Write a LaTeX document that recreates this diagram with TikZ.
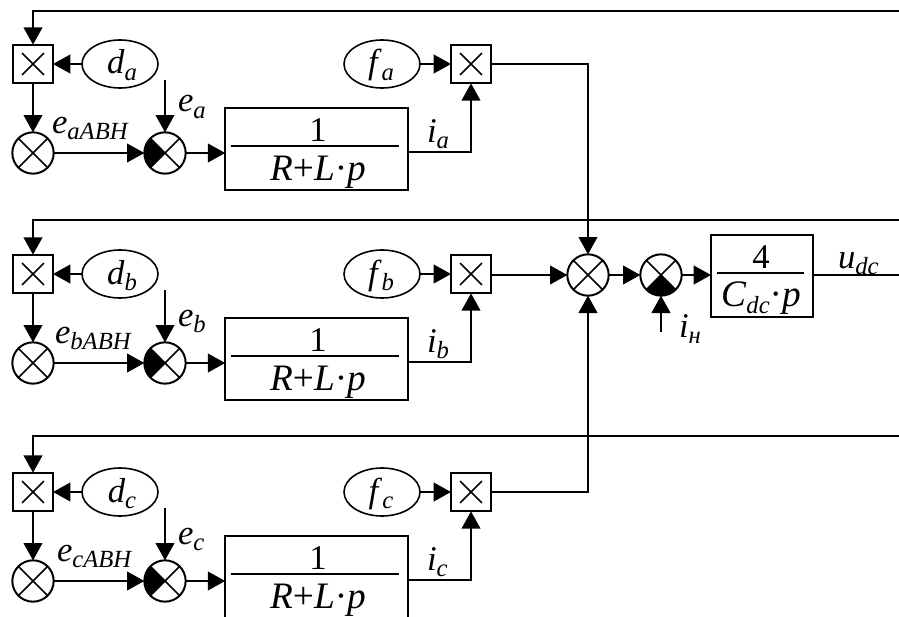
\documentclass[tikz,border=0pt]{standalone}
\usepackage{fontspec}
\setmainfont{Liberation Serif}
\usetikzlibrary{arrows.meta,calc,shapes.geometric}
\newcommand\sbs[1]{\raisebox{-0.2em}{\fontsize{18.5}{20}\selectfont #1}}
\newcommand\lbl[2]{\textit{#1}\sbs{\textit{#2}}}
\tikzset{
  x=0.75pt,y=-0.75pt,
  every node/.style={inner sep=0pt,outer sep=0pt,font=\fontsize{26}{28}\selectfont},
  wire/.style={line width=1.5pt},
  arr/.style={wire,-{Triangle[length=13pt,width=14pt]}},
  mult/.style={draw,line width=1.5pt,rectangle,minimum width=30pt,minimum height=29pt,
    path picture={\draw[line width=1.1pt]
      ($(path picture bounding box.center)+(-8.2pt,-8.2pt)$)--($(path picture bounding box.center)+(8.2pt,8.2pt)$)
      ($(path picture bounding box.center)+(-8.2pt,8.2pt)$)--($(path picture bounding box.center)+(8.2pt,-8.2pt)$);}},
  sumc/.style={draw,line width=1.5pt,circle,minimum size=31pt,
    path picture={\draw[line width=1.1pt]
      (path picture bounding box.center)+(-12pt,-12pt)--+(12pt,12pt)
      (path picture bounding box.center)+(-12pt,12pt)--+(12pt,-12pt);}},
  coef/.style={draw,line width=1.2pt,ellipse,minimum width=57pt,minimum height=36pt},
  tf/.style={draw,line width=1.5pt,rectangle,minimum width=137pt,minimum height=61.5pt},
  tfm/.style={draw,line width=1.5pt,rectangle,minimum width=76.5pt,minimum height=61.5pt},
  txt/.style={anchor=base west},
  ctr/.style={anchor=base},
  den/.style={anchor=base,font=\fontsize{28}{30}\selectfont},
  bar/.style={line width=1.5pt}
}
% #1 letter, #2 row offset, #3 feedback line y, #4 subscript label x, #5 e label baseline
\newcommand\plantrow[5]{%
  \coordinate (r#1) at (899,#3);
  \node[mult] (m#1) at (33,{64+#2}) {};
  \node[coef] (d#1) at (120,{64+#2}) {};
  \node[ctr] at (122,{74+#2}) {\lbl{d}{#1}};
  \node[coef] (f#1) at (382,{64+#2}) {};
  \node[ctr] at (381,{74+#2}) {\lbl{f}{#1}};
  \node[mult] (g#1) at (471,{64+#2}) {};
  \node[sumc] (s#1) at (33,{153+#2}) {};
  \node[sumc] (t#1) at (165,{153+#2}) {};
  \fill (t#1.center) -- ($(t#1.center)+(135:15.5pt)$) arc[start angle=135,end angle=225,radius=15.5pt] -- cycle;
  \node[tf] (b#1) at (316.5,{149+#2}) {};
  \coordinate (ln#1) at (231,{146+#2});
  \coordinate (rn#1) at (399,{146+#2});
  \draw[bar] (ln#1) -- (rn#1);
  \node[ctr] at (318,{141+#2}) {1};
  \node[den] at (318,{180+#2}) {\textit{R}+\textit{L}·\textit{p}};
  \coordinate (e#1) at (165,{80+#2});
  \node[txt] at (178,{#5+#2}) {\lbl{e}{#1}};
  \node[txt] at (#4,{133+#2}) {\lbl{e}{#1АВН}};
  \node[txt] at (427,{142+#2}) {\lbl{i}{#1}};
  \draw[arr] (r#1) -| (m#1.north);
  \draw[arr] (d#1.west) -- (m#1.east);
  \draw[arr] (m#1.south) -- (s#1.north);
  \draw[arr] (s#1.east) -- (t#1.west);
  \draw[arr] (e#1) -- (t#1.north);
  \draw[arr] (t#1.east) -- (t#1.east -| b#1.west);
  \draw[arr] (f#1.east) -- (g#1.west);
  \draw[arr] ([yshift=-2.2pt]b#1.east) -| (g#1.south);
}
\begin{document}
\begin{tikzpicture}
\useasboundingbox (0,0) rectangle (899,617);
\clip (0,0) rectangle (899,617);
\plantrow{a}{0}{11}{52}{112}
\plantrow{b}{210}{220}{55}{116}
\plantrow{c}{428}{436}{57}{116}
\node[sumc] (sm) at (588,275) {};
\node[sumc] (sn) at (661,275) {};
\fill (sn.center) -- ($(sn.center)+(-45:15.5pt)$) arc[start angle=-45,end angle=-135,radius=15.5pt] -- cycle;
\node[tfm] (bm) at (762,276) {};
\coordinate (lm) at (717,273);
\coordinate (rm) at (804,273);
\draw[bar] (lm) -- (rm);
\node[ctr] at (761,268) {4};
\node[den] at (761,306) {\textit{C}\sbs{\textit{dc}}·\textit{p}};
\node[txt] at (838,268) {\lbl{u}{dc}};
\node[txt] at (679,337) {\lbl{i}{н}};
\coordinate (iload) at (661,332);
\coordinate (out) at (899,275);
\draw[arr] (ga.east) -| (sm.north);
\draw[arr] (gb.east |- sm.west) -- (sm.west);
\draw[arr] (gc.east) -| (sm.south);
\draw[arr] (sm.east) -- (sn.west);
\draw[arr] (sn.east) -- (sn.east -| bm.west);
\draw[arr] (iload) -- (sn.south);
\draw[wire] (sn.east -| bm.east) -- (out);
\end{tikzpicture}
\end{document}
